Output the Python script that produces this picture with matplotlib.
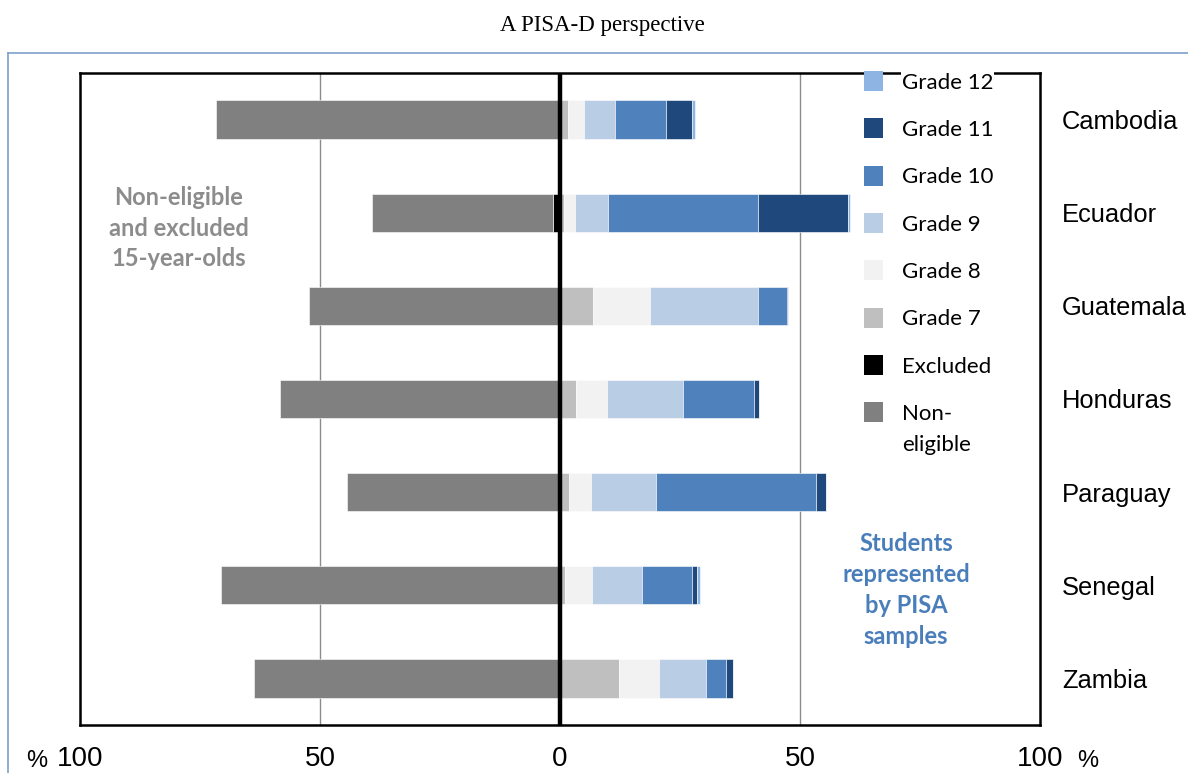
import matplotlib
matplotlib.use("Agg")
import matplotlib.pyplot as plt
from matplotlib.patches import Patch
from matplotlib.lines import Line2D
import numpy as np

countries = ["Cambodia", "Ecuador", "Guatemala", "Honduras", "Paraguay", "Senegal", "Zambia"]
non_eligible = [71.6, 37.8, 52.3, 58.4, 44.3, 70.7, 63.8]
excluded = [0.0, 1.4, 0.0, 0.0, 0.0, 0.0, 0.0]
grade7 = [1.6, 0.8, 6.8, 3.4, 1.8, 1.1, 12.3]
grade8 = [3.4, 2.4, 11.9, 6.4, 4.7, 5.5, 8.3]
grade9 = [6.4, 6.7, 22.6, 15.9, 13.5, 10.4, 9.9]
grade10 = [10.7, 31.3, 6.0, 14.8, 33.4, 10.4, 4.1]
grade11 = [5.4, 18.9, 0.3, 0.9, 2.1, 1.2, 1.4]
grade12 = [0.7, 0.4, 0.0, 0.0, 0.0, 0.5, 0.0]
tick_values = [-100, -50, 0, 50, 100]
tick_labels = ["100", "50", "0", "50", "100"]

col_non = "#808080"
col_exc = "#000000"
col_g7 = "#bfbfbf"
col_g8 = "#f2f2f2"
col_g9 = "#b9cde5"
col_g10 = "#4f81bd"
col_g11 = "#1f497d"
col_g12 = "#8db4e2"

W, H = 1188, 773
fig = plt.figure(figsize=(W / 100, H / 100), dpi=100)
ax = fig.add_axes([80 / W, 1 - 725 / H, 960 / W, 652 / H])

y = np.arange(len(countries))
bh = 0.41
edge = dict(edgecolor="white", linewidth=0.4)

exc = np.array(excluded)
non = np.array(non_eligible)
ax.barh(y, -exc, height=bh, color=col_exc, zorder=3, **edge)
ax.barh(y, -non, left=-exc, height=bh, color=col_non, zorder=3, **edge)

left = np.zeros(len(countries))
for vals, c in [(grade7, col_g7), (grade8, col_g8), (grade9, col_g9),
                (grade10, col_g10), (grade11, col_g11), (grade12, col_g12)]:
    v = np.array(vals)
    ax.barh(y, v, left=left, height=bh, color=c, zorder=3, **edge)
    left = left + v

ax.set_xlim(-100, 100)
ax.set_ylim(len(countries) - 0.5, -0.5)

for gx in (-50, 50):
    ax.axvline(gx, color="#8c8c8c", lw=1.0, zorder=1)
ax.axvline(0, color="black", lw=3.2, zorder=4)

for s in ax.spines.values():
    s.set_color("black")
    s.set_linewidth(1.8)

ax.set_xticks(tick_values)
ax.set_xticklabels(tick_labels, family=["Liberation Sans Narrow", "Liberation Sans"], fontsize=20)
ax.tick_params(axis="x", length=0, pad=15)

ax.yaxis.tick_right()
ax.set_yticks(y)
ax.set_yticklabels(countries, family="Liberation Sans", fontsize=18.4)
ax.tick_params(axis="y", length=0, pad=16)
for t in ax.get_yticklabels():
    t.set_ha("left")

fig.text(37 / W, 1 - 761 / H, "%", ha="center", va="center", fontsize=17,
         family=["Liberation Sans Narrow", "Liberation Sans"])
fig.text(1088 / W, 1 - 761 / H, "%", ha="center", va="center", fontsize=17,
         family=["Liberation Sans Narrow", "Liberation Sans"])

fig.text(602 / W, 1 - 25 / H, "A PISA-D perspective", ha="center", va="center",
         fontsize=16.5, family="Liberation Serif")

fig.text(179 / W, 1 - 228 / H, "Non-eligible\nand excluded\n15-year-olds",
         ha="center", va="center", fontsize=17, fontweight="bold", color="#8c8c8c",
         family="Lato", linespacing=1.42)
fig.text(906 / W, 1 - 590 / H, "Students\nrepresented\nby PISA\nsamples",
         ha="center", va="center", fontsize=17, fontweight="bold", color="#4a7ebb",
         family="Lato", linespacing=1.42)

handles = [Patch(facecolor=c, edgecolor="none") for c in
           [col_g12, col_g11, col_g10, col_g9, col_g8, col_g7, col_exc, col_non]]
labels = ["Grade 12", "Grade 11", "Grade 10", "Grade 9", "Grade 8", "Grade 7",
          "Excluded", "Non-"]
leg = ax.legend(handles, labels, loc="upper left",
                bbox_to_anchor=(864 / W, 1 - 71 / H), bbox_transform=fig.transFigure,
                frameon=False, borderpad=0, borderaxespad=0,
                prop=dict(family="Lato", size=16), handlelength=0.86,
                handleheight=1.0, handletextpad=0.85, labelspacing=1.16)
leg.set_zorder(10)
leg.get_texts()[0].set_bbox(dict(facecolor="white", edgecolor="none", pad=0.5))

# second line of the last legend label, placed under "Non-"
fig.canvas.draw()
bb = leg.get_texts()[-1].get_window_extent()
fig.text(bb.x0 / W, (bb.y0 - 31) / H, "eligible", ha="left", va="bottom",
         family="Lato", fontsize=16)

# outer light-blue frame
fig.add_artist(Line2D([8 / W, 8 / W], [0, 1 - 53 / H], transform=fig.transFigure,
                      color="#7da0cc", lw=1.2))
fig.add_artist(Line2D([8 / W, 1], [1 - 53 / H, 1 - 53 / H], transform=fig.transFigure,
                      color="#7da0cc", lw=1.2))

fig.savefig("out.png", dpi=100)
